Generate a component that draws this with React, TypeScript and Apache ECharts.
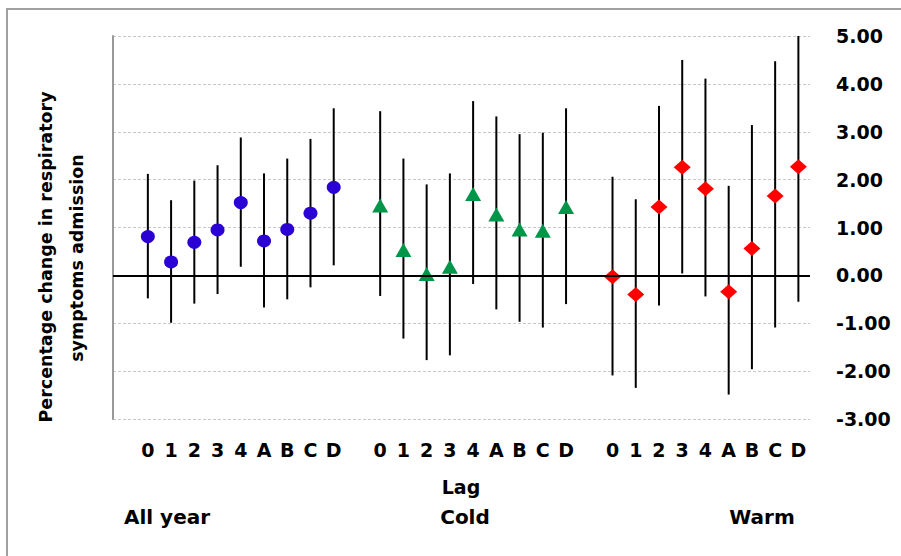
import React, { useEffect, useRef } from "react";
import * as echarts from "echarts";

const lagLabels = ["0", "1", "2", "3", "4", "A", "B", "C", "D"];
const categories = ["", ...lagLabels, "", ...lagLabels, "", ...lagLabels];

const allYearEst = [0.81, 0.28, 0.69, 0.95, 1.52, 0.72, 0.96, 1.30, 1.84];
const allYearLow = [-0.48, -0.99, -0.59, -0.39, 0.18, -0.67, -0.50, -0.25, 0.21];
const allYearHigh = [2.12, 1.57, 1.98, 2.30, 2.88, 2.13, 2.44, 2.85, 3.49];

const coldEst = [1.46, 0.53, 0.03, 0.18, 1.70, 1.27, 0.96, 0.93, 1.43];
const coldLow = [-0.43, -1.32, -1.77, -1.67, -0.18, -0.71, -0.97, -1.09, -0.60];
const coldHigh = [3.43, 2.44, 1.90, 2.13, 3.64, 3.32, 2.95, 2.98, 3.49];

const warmEst = [-0.03, -0.40, 1.43, 2.26, 1.81, -0.34, 0.56, 1.66, 2.27];
const warmLow = [-2.09, -2.35, -0.63, 0.04, -0.44, -2.49, -1.96, -1.09, -0.55];
const warmHigh = [2.06, 1.59, 3.54, 4.50, 4.11, 1.87, 3.14, 4.47, 5.0];

const yTicks = { min: -3, max: 5, interval: 1 };
const groupNames = ["All year", "Cold", "Warm"];
const axisTitle = "Lag";
const yTitleLines = ["Percentage change in respiratory", "symptoms admission"];

const offsets = [1, 11, 21];

function pts(est: number[], off: number) {
  return est.map((v, i) => [off + i, v]);
}
function bars(low: number[], high: number[], off: number) {
  return low.map((l, i) => [off + i, l, high[i]]);
}

const FONT = "DejaVu Sans";

export default function App() {
  const ref = useRef<HTMLDivElement>(null);
  useEffect(() => {
    if (!ref.current) return;
    const chart = echarts.init(ref.current, null, { renderer: "svg" });
    const errData = [
      ...bars(allYearLow, allYearHigh, offsets[0]),
      ...bars(coldLow, coldHigh, offsets[1]),
      ...bars(warmLow, warmHigh, offsets[2]),
    ];
    chart.setOption({
      animation: false,
      backgroundColor: "#ffffff",
      grid: { left: 113, right: 91, top: 36, bottom: 137 },
      xAxis: {
        type: "category",
        data: categories,
        boundaryGap: true,
        axisLine: { show: false, onZero: false },
        axisTick: { show: false },
        splitLine: { show: false },
        axisLabel: {
          interval: 0,
          margin: 21,
          color: "#000",
          fontFamily: FONT,
          fontWeight: "bold",
          fontSize: 19,
        },
      },
      yAxis: [
        {
          type: "value",
          position: "right",
          min: yTicks.min,
          max: yTicks.max,
          interval: yTicks.interval,
          axisLine: { show: false },
          axisTick: { show: false },
          axisLabel: {
            margin: 26,
            color: "#000",
            fontFamily: FONT,
            fontWeight: "bold",
            fontSize: 19,
            formatter: (v: number) => v.toFixed(2),
          },
          splitLine: { show: true, lineStyle: { color: "#c8c8c8", type: [3, 2], width: 1 } },
        },
        {
          type: "value",
          position: "left",
          min: yTicks.min,
          max: yTicks.max,
          interval: yTicks.interval,
          axisLine: { show: true, onZero: false, lineStyle: { color: "#9a9a9a", width: 2 } },
          axisTick: { show: false },
          axisLabel: { show: false },
          splitLine: { show: false },
        },
      ],
      series: [
        {
          type: "custom",
          name: "ci",
          data: errData,
          encode: { x: 0, y: [1, 2] },
          renderItem: (params: any, api: any) => {
            const x = api.value(0);
            const a = api.coord([x, api.value(1)]);
            const b = api.coord([x, api.value(2)]);
            return {
              type: "line",
              shape: { x1: a[0], y1: a[1], x2: b[0], y2: b[1] },
              style: { stroke: "#000", lineWidth: 2 },
            };
          },
          markLine: {
            silent: true,
            symbol: "none",
            label: { show: false },
            lineStyle: { color: "#000", width: 2, type: "solid" },
            data: [{ yAxis: 0 }],
          },
          z: 2,
        },
        {
          type: "scatter",
          name: groupNames[0],
          data: pts(allYearEst, offsets[0]),
          symbol: "circle",
          symbolSize: [14, 13],
          itemStyle: { color: "#2a00d4", opacity: 1 },
          z: 3,
        },
        {
          type: "scatter",
          name: groupNames[1],
          data: pts(coldEst, offsets[1]),
          symbol: "triangle",
          symbolSize: [16, 14],
          itemStyle: { color: "#00964a", opacity: 1 },
          z: 3,
        },
        {
          type: "scatter",
          name: groupNames[2],
          data: pts(warmEst, offsets[2]),
          symbol: "diamond",
          symbolSize: [17, 15],
          itemStyle: { color: "#ff0000", opacity: 1 },
          z: 3,
        },
      ],
      graphic: [
        {
          type: "rect",
          shape: { x: 7, y: 9, width: 1000, height: 1000 },
          style: { fill: "none", stroke: "#a0a0a0", lineWidth: 2 },
          silent: true,
        },
        {
          type: "text",
          x: 46,
          y: 257,
          rotation: Math.PI / 2,
          style: {
            text: yTitleLines[0],
            font: `bold 17.5px "${FONT}"`,
            fill: "#000",
            align: "center",
            verticalAlign: "middle",
          },
        },
        {
          type: "text",
          x: 77,
          y: 258,
          rotation: Math.PI / 2,
          style: {
            text: yTitleLines[1],
            font: `bold 17.5px "${FONT}"`,
            fill: "#000",
            align: "center",
            verticalAlign: "middle",
          },
        },
        {
          type: "text",
          x: 461,
          y: 487,
          style: {
            text: axisTitle,
            font: `bold 19px "${FONT}"`,
            fill: "#000",
            align: "center",
            verticalAlign: "middle",
          },
        },
        {
          type: "text",
          x: 167,
          y: 517,
          style: {
            text: groupNames[0],
            font: `bold 20px "${FONT}"`,
            fill: "#000",
            align: "center",
            verticalAlign: "middle",
          },
        },
        {
          type: "text",
          x: 465,
          y: 517,
          style: {
            text: groupNames[1],
            font: `bold 20px "${FONT}"`,
            fill: "#000",
            align: "center",
            verticalAlign: "middle",
          },
        },
        {
          type: "text",
          x: 762,
          y: 517,
          style: {
            text: groupNames[2],
            font: `bold 20px "${FONT}"`,
            fill: "#000",
            align: "center",
            verticalAlign: "middle",
          },
        },
      ],
    });
    return () => chart.dispose();
  }, []);
  return (
    <div
      ref={ref}
      style={{ position: "fixed", left: 0, top: 0, width: 901, height: 556 }}
    />
  );
}
